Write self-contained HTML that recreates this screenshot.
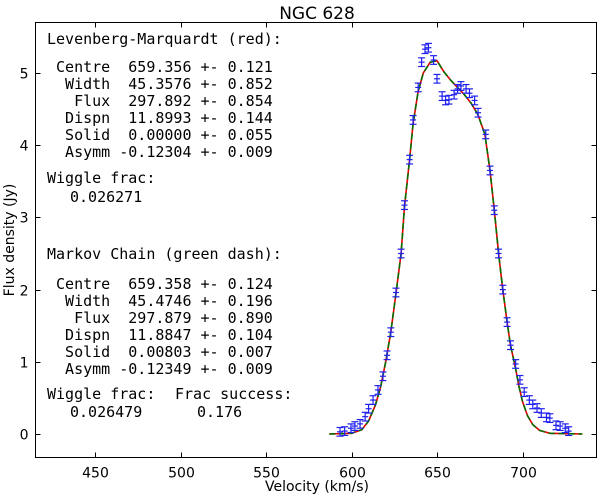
<!DOCTYPE html>
<html><head><meta charset="utf-8"><style>
body{margin:0;background:#fff}
svg{display:block}
.t{font-family:"DejaVu Sans","Liberation Sans",sans-serif;font-size:14px;fill:#000}
.m{font-family:"DejaVu Sans Mono","Liberation Mono",monospace;font-size:15px;fill:#000;white-space:pre}
</style></head><body>
<svg id="chart" width="600" height="497" xmlns="http://www.w3.org/2000/svg">
<text class="t" x="317" y="19" text-anchor="middle" style="font-size:17px">NGC 628</text>
<rect x="35.5" y="22.5" width="561" height="435" fill="none" stroke="#000"/>
<g id="ticks"></g>
<g id="curves"></g>
<g id="points"></g>
<text class="t" x="317" y="491" text-anchor="middle">Velocity (km/s)</text>
<text class="t" transform="translate(14,240) rotate(-90)" text-anchor="middle">Flux density (Jy)</text>
<g>
<text class="m" x="47" y="44">Levenberg-Marquardt (red):</text>
<text class="m" x="47" y="72"> Centre  659.356 +- 0.121</text>
<text class="m" x="47" y="89">  Width  45.3576 +- 0.852</text>
<text class="m" x="47" y="106">   Flux  297.892 +- 0.854</text>
<text class="m" x="47" y="123">  Dispn  11.8993 +- 0.144</text>
<text class="m" x="47" y="140">  Solid  0.00000 +- 0.055</text>
<text class="m" x="47" y="157">  Asymm -0.12304 +- 0.009</text>
<text class="m" x="47" y="183">Wiggle frac:</text>
<text class="m" x="70" y="202">0.026271</text>
</g>
<g>
<text class="m" x="47" y="259">Markov Chain (green dash):</text>
<text class="m" x="47" y="289"> Centre  659.358 +- 0.124</text>
<text class="m" x="47" y="306">  Width  45.4746 +- 0.196</text>
<text class="m" x="47" y="323">   Flux  297.879 +- 0.890</text>
<text class="m" x="47" y="340">  Dispn  11.8847 +- 0.104</text>
<text class="m" x="47" y="357">  Solid  0.00803 +- 0.007</text>
<text class="m" x="47" y="374">  Asymm -0.12349 +- 0.009</text>
<text class="m" x="47" y="399">Wiggle frac:</text>
<text class="m" x="70" y="417">0.026479</text>
<text class="m" x="175" y="399">Frac success:</text>
<text class="m" x="197" y="417">0.176</text>
</g>
</svg>
<script>
const xTicks=[450,500,550,600,650,700];
const yTicks=[0,1,2,3,4,5];
const dataV=[593.3,596,599.7,602,605,608,610,612.6,615.5,618.4,620.8,623,626,629,631,634,636,639,641,643,645,648,650,653,655,657,660,662,664,667,669,672,674,678.5,681,683.5,686,688.5,691,693,696,698.5,701,704,706,708.5,711,714,716,719.6,722,725,727];
const dataF=[0.03,0.04,0.08,0.11,0.14,0.24,0.35,0.47,0.61,0.8,1.09,1.41,1.96,2.5,3.17,3.8,4.35,4.8,5.15,5.33,5.35,5.18,4.92,4.68,4.62,4.63,4.7,4.78,4.82,4.78,4.72,4.62,4.45,4.15,3.65,3.1,2.5,2.0,1.55,1.23,0.97,0.75,0.58,0.47,0.41,0.36,0.29,0.23,0.22,0.12,0.11,0.08,0.04];
const dataErr=0.06;
const modelV=[587,600,606,610,614,617,620,623,626,629,631,634,636,639,642,646,650,654,658,662,666,670,674,678,681,683.5,686,688.5,691,693,696,698,700,703,706,710,716,735];
const modelF=[0,0.01,0.06,0.18,0.4,0.65,1.0,1.41,1.95,2.5,3.15,3.8,4.3,4.75,5.0,5.15,5.17,5.02,4.9,4.8,4.7,4.58,4.42,4.15,3.65,3.1,2.5,2.0,1.55,1.23,0.9,0.65,0.45,0.25,0.13,0.05,0.01,0];
const NS='http://www.w3.org/2000/svg';
const X=v=>95+(v-450)*1.71, Y=f=>434-f*72.2;
const L=35.5,R=596.5,T=22.5,B=457.5;
function mk(tag,attrs,parent){const e=document.createElementNS(NS,tag);for(const k in attrs)e.setAttribute(k,attrs[k]);parent.appendChild(e);return e;}
const tg=document.getElementById('ticks');
xTicks.forEach(v=>{const x=Math.round(X(v))+0.5;
 const a=mk('line',{x1:x,x2:x,y1:B,y2:B-5,stroke:'#000'},tg);
 
 
 mk('line',{x1:x,x2:x,y1:T,y2:T+5,stroke:'#000'},tg);
 const t=mk('text',{x:x,y:B+20,'text-anchor':'middle',class:'t'},tg);t.textContent=v;
 
 
});
yTicks.forEach(f=>{const y=Math.round(Y(f))+0.5;
 const a=mk('line',{x1:L,x2:L+5,y1:y,y2:y,stroke:'#000'},tg);
 
 
 mk('line',{x1:R,x2:R-5,y1:y,y2:y,stroke:'#000'},tg);
 const t=mk('text',{x:L-7,y:y+5,'text-anchor':'end',class:'t'},tg);t.textContent=f;
 
 
});
const cg=document.getElementById('curves');
const d=modelV.map((v,i)=>(i?'L':'M')+X(v).toFixed(1)+','+Y(modelF[i]).toFixed(1)).join(' ');
const red=mk('path',{d:d,fill:'none',stroke:'#e00000','stroke-width':1.6},cg);


const grn=mk('path',{d:d,fill:'none',stroke:'#007000','stroke-width':1.6,'stroke-dasharray':'6,4'},cg);


const pg=document.getElementById('points');
dataV.forEach((v,i)=>{const x=X(v),y1=Y(dataF[i]+dataErr),y2=Y(dataF[i]-dataErr);
 const g=mk('g',{stroke:'#2020ee','stroke-width':1.2},pg);
 
 
 mk('line',{x1:x,x2:x,y1:y1,y2:y2},g);
 mk('line',{x1:x-3.5,x2:x+3.5,y1:y1,y2:y1},g);
 mk('line',{x1:x-3.5,x2:x+3.5,y1:y2,y2:y2},g);
 mk('line',{x1:x-3,x2:x+3,y1:Y(dataF[i]),y2:Y(dataF[i])},g);
});
</script>
</body></html>
